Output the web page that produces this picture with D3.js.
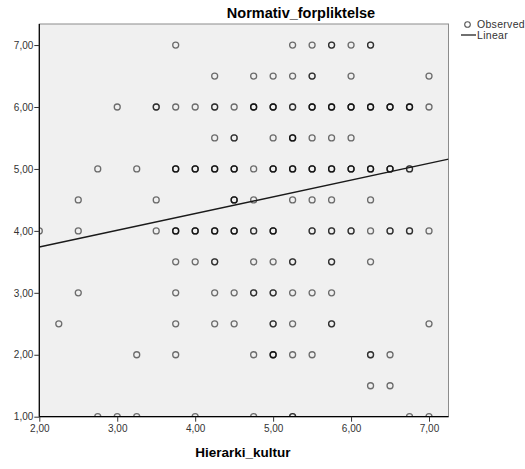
<!DOCTYPE html>
<html>
<head>
<meta charset="utf-8">
<script src="https://cdn.jsdelivr.net/npm/d3@7"></script>
<style>
  body { margin: 0; background: #fff; }
  svg { display: block; font-family: "Liberation Sans", Arial, sans-serif; }
</style>
</head>
<body>
<svg id="chart" width="525" height="469"></svg>
<script>
// Observations: Hierarki_kultur (x), Normativ_forpliktelse (y), number of cases at that point
const hierarki = [
  3.75, 5.25, 5.5, 5.75, 6.0, 6.25,
  4.25, 4.75, 5.0, 5.25, 5.5, 6.0, 7.0,
  3.0, 3.5, 3.75, 4.0, 4.25, 4.5, 4.75, 5.0, 5.25, 5.5, 5.75, 6.0, 6.25, 6.5, 6.75, 7.0,
  4.25, 4.5, 5.0, 5.25, 5.5, 5.75, 6.0,
  2.75, 3.25, 3.75, 4.0, 4.25, 4.5, 4.75, 5.0, 5.25, 5.5, 5.75, 6.0, 6.25, 6.5, 6.75,
  2.5, 3.5, 4.5, 4.75, 5.25, 5.5, 5.75, 6.25,
  2.0, 2.5, 3.5, 3.75, 4.0, 4.25, 4.5, 4.75, 5.0, 5.5, 5.75, 6.0, 6.25, 6.5, 6.75, 7.0,
  3.75, 4.0, 4.25, 4.75, 5.0, 5.25, 5.75, 6.25,
  2.5, 3.75, 4.25, 4.5, 4.75, 5.0, 5.25, 5.5, 5.75,
  2.25, 3.75, 4.25, 4.5, 5.0, 5.25, 5.75, 7.0,
  3.25, 3.75, 4.75, 5.0, 5.25, 5.5, 6.25, 6.5,
  6.25, 6.5,
  2.75, 3.0, 3.25, 4.0, 4.75, 5.25, 6.75, 7.0
];
const normativ = [
  7, 7, 7, 7, 7, 7,
  6.5, 6.5, 6.5, 6.5, 6.5, 6.5, 6.5,
  6, 6, 6, 6, 6, 6, 6, 6, 6, 6, 6, 6, 6, 6, 6, 6,
  5.5, 5.5, 5.5, 5.5, 5.5, 5.5, 5.5,
  5, 5, 5, 5, 5, 5, 5, 5, 5, 5, 5, 5, 5, 5, 5,
  4.5, 4.5, 4.5, 4.5, 4.5, 4.5, 4.5, 4.5,
  4, 4, 4, 4, 4, 4, 4, 4, 4, 4, 4, 4, 4, 4, 4, 4,
  3.5, 3.5, 3.5, 3.5, 3.5, 3.5, 3.5, 3.5,
  3, 3, 3, 3, 3, 3, 3, 3, 3,
  2.5, 2.5, 2.5, 2.5, 2.5, 2.5, 2.5, 2.5,
  2, 2, 2, 2, 2, 2, 2, 2,
  1.5, 1.5,
  1, 1, 1, 1, 1, 1, 1, 1
];
const cases = [
  1, 1, 1, 2, 1, 2,
  1, 1, 1, 1, 2, 1, 1,
  1, 2, 1, 1, 2, 1, 3, 3, 2, 3, 3, 3, 3, 3, 3, 1,
  1, 2, 1, 3, 1, 1, 1,
  1, 1, 3, 3, 3, 3, 1, 3, 3, 3, 3, 3, 3, 3, 2,
  1, 1, 3, 1, 1, 1, 1, 1,
  1, 1, 1, 3, 3, 3, 3, 2, 3, 2, 2, 2, 1, 2, 2, 1,
  1, 1, 2, 1, 1, 2, 2, 1,
  1, 1, 1, 1, 2, 2, 1, 1, 1,
  1, 1, 1, 1, 2, 1, 2, 1,
  1, 1, 1, 3, 1, 1, 2, 1,
  1, 1,
  1, 1, 1, 1, 1, 2, 1, 1
];

// Linear fit line
const fitIntercept = 3.20;
const fitSlope = 0.27;

const xTicks = [2, 3, 4, 5, 6, 7];
const yTicks = [1, 2, 3, 4, 5, 6, 7];

const titleText = "Normativ_forpliktelse";
const xTitle = "Hierarki_kultur";
const legendLabels = ["Observed", "Linear"];

const locale = d3.formatLocale({ decimal: ",", thousands: ".", grouping: [3], currency: ["", ""] });
const fmt = locale.format(".2f");

const margin = { left: 39.3, right: 448.5, top: 24, bottom: 416.7 };
const x = d3.scaleLinear().domain([2, 7.25]).range([margin.left, margin.right]);
const y = d3.scaleLinear().domain([1, 7.34]).range([margin.bottom, margin.top]);

const svg = d3.select("#chart");

// plot background and frame
svg.append("rect")
  .attr("x", margin.left).attr("y", margin.top)
  .attr("width", margin.right - margin.left)
  .attr("height", margin.bottom - margin.top)
  .attr("fill", "#f0f0f0")
  .attr("stroke", "#8c8c8c")
  .attr("stroke-width", 1);

svg.append("clipPath").attr("id", "plotClip")
  .append("rect")
  .attr("x", margin.left).attr("y", margin.top)
  .attr("width", margin.right - margin.left)
  .attr("height", margin.bottom - margin.top);

const plot = svg.append("g").attr("clip-path", "url(#plotClip)");

// expand observations: one circle per case so overlapping cases look darker
const obs = [];
hierarki.forEach((hx, i) => {
  for (let k = 0; k < cases[i]; k++) obs.push({ x: hx, y: normativ[i] });
});

plot.selectAll("circle.obs")
  .data(obs)
  .join("circle")
  .attr("class", "obs")
  .attr("cx", d => x(d.x))
  .attr("cy", d => y(d.y))
  .attr("r", 3)
  .attr("fill", "none")
  .attr("stroke", "#000")
  .attr("stroke-opacity", 0.55)
  .attr("stroke-width", 1.3);

// fitted line across the full x range
const xd = x.domain();
plot.append("line")
  .attr("x1", x(xd[0])).attr("y1", y(fitIntercept + fitSlope * xd[0]))
  .attr("x2", x(xd[1])).attr("y2", y(fitIntercept + fitSlope * xd[1]))
  .attr("stroke", "#1a1a1a")
  .attr("stroke-width", 1.4);

// axes
const xAxis = d3.axisBottom(x).tickValues(xTicks).tickFormat(fmt).tickSize(5).tickPadding(3);
const yAxis = d3.axisLeft(y).tickValues(yTicks).tickFormat(fmt).tickSize(5).tickPadding(1);

const gx = svg.append("g").attr("transform", `translate(0,${margin.bottom})`).call(xAxis);
const gy = svg.append("g").attr("transform", `translate(${margin.left},0)`).call(yAxis);

[gx, gy].forEach(g => {
  g.select(".domain").attr("stroke", "#000").attr("stroke-width", 1.2);
  g.selectAll(".tick line").attr("stroke", "#333");
  g.selectAll(".tick text")
    .attr("fill", "#333")
    .style("font-size", "10px")
    .style("font-family", "\"Liberation Sans\", Arial, sans-serif");
});
gx.select(".domain").attr("d", `M${margin.left},0H${margin.right}`);
gy.select(".domain").attr("d", `M0,${margin.bottom}V${margin.top}`);

// titles
svg.append("text")
  .attr("x", 301).attr("y", 18)
  .attr("text-anchor", "middle")
  .style("font-size", "14.5px").style("font-weight", "bold")
  .text(titleText);

svg.append("text")
  .attr("x", (margin.left + margin.right) / 2 - 1).attr("y", 457)
  .attr("text-anchor", "middle")
  .style("font-size", "13.5px").style("font-weight", "bold")
  .text(xTitle);

// legend
const lg = svg.append("g");
lg.append("circle").attr("cx", 467.5).attr("cy", 24.5).attr("r", 2.8)
  .attr("fill", "none").attr("stroke", "#555").attr("stroke-width", 1.1);
lg.append("text").attr("x", 477).attr("y", 28)
  .style("font-size", "10.5px").style("letter-spacing", "0.3px")
  .attr("fill", "#333").text(legendLabels[0]);
lg.append("line").attr("x1", 461).attr("x2", 476).attr("y1", 35).attr("y2", 35)
  .attr("stroke", "#222").attr("stroke-width", 1.3);
lg.append("text").attr("x", 477).attr("y", 38.5)
  .style("font-size", "10.5px").style("letter-spacing", "0.3px")
  .attr("fill", "#333").text(legendLabels[1]);
</script>
</body>
</html>
